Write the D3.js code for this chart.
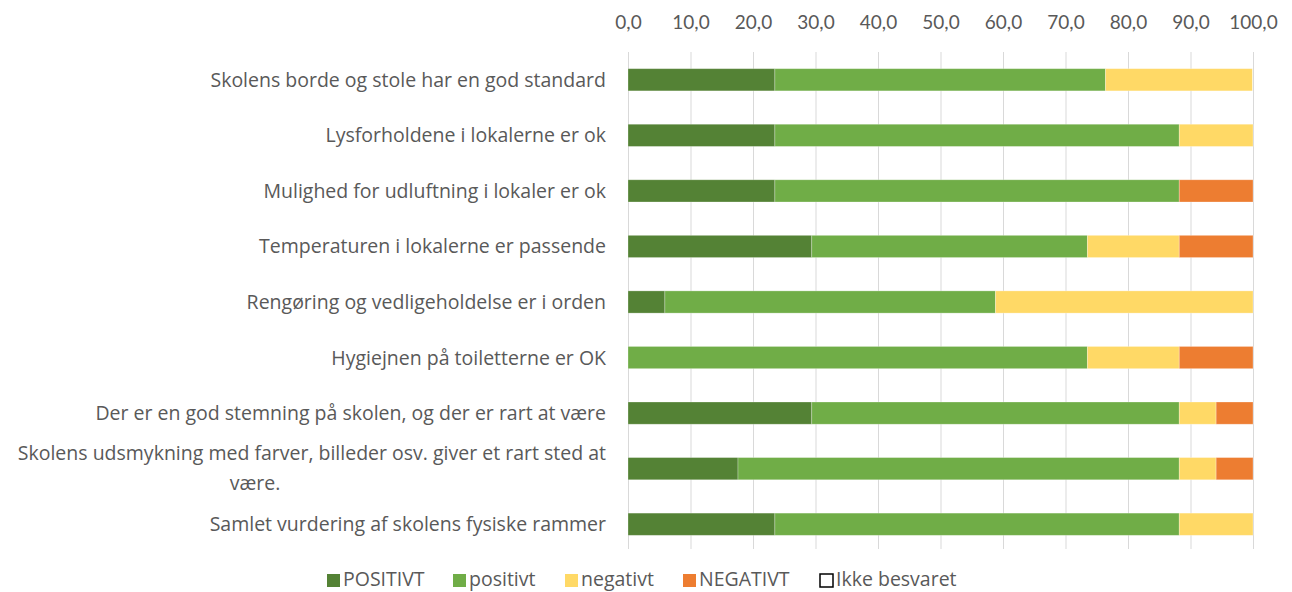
<!DOCTYPE html>
<head>
  <meta charset="utf-8">
  <script src="https://d3js.org/d3.v7.min.js"></script>
  <style>
    body { margin:0; background:#fff; }
    text { font-family: "Open Sans", Lato, sans-serif; fill:#595959; }
  </style>
</head>
<body>
<script>

  var categories = [
    "Skolens borde og stole har en god standard",
    "Lysforholdene i lokalerne er ok",
    "Mulighed for udluftning i lokaler er ok",
    "Temperaturen i lokalerne er passende",
    "Rengøring og vedligeholdelse er i orden",
    "Hygiejnen på toiletterne er OK",
    "Der er en god stemning på skolen, og der er rart at være",
    "Skolens udsmykning med farver, billeder osv. giver et rart sted at være.",
    "Samlet vurdering af skolens fysiske rammer"
  ];

  var seriesNames = ["POSITIVT", "positivt", "negativt", "NEGATIVT", "Ikke besvaret"];

  var POSITIVT     = [23.5, 23.5, 23.5, 29.4,  5.9,  0.0, 29.4, 17.6, 23.5];
  var positivt     = [52.9, 64.7, 64.7, 44.1, 52.9, 73.5, 58.8, 70.6, 64.7];
  var negativt     = [23.5, 11.8,  0.0, 14.7, 41.2, 14.7,  5.9,  5.9, 11.8];
  var NEGATIVT     = [ 0.0,  0.0, 11.8, 11.8,  0.0, 11.8,  5.9,  5.9,  0.0];
  var ikkeBesvaret = [ 0,    0,    0,    0,    0,    0,    0,    0,    0  ];

  var tickValues = [0,10,20,30,40,50,60,70,80,90,100];

  var colors = ["#548235", "#70AD47", "#FFD966", "#ED7D31", "#ffffff"];

  var width = 1292, height = 592;

  var svg = d3.select("body").append("svg")
    .attr("width", width)
    .attr("height", height);

  var x = d3.scaleLinear().domain([0, 100]).range([628, 1253]);
  var y = d3.scaleBand().domain(categories).range([52, 552]).paddingInner(0.6).paddingOuter(0.3);

  var fmt = function(d){ return d3.format(".1f")(d).replace(".", ","); };

  // gridlines
  svg.append("g").selectAll("line")
    .data(tickValues)
    .enter().append("line")
    .attr("x1", function(d){ return x(d) + 0.5; })
    .attr("x2", function(d){ return x(d) + 0.5; })
    .attr("y1", 52).attr("y2", 549)
    .attr("stroke", "#d9d9d9").attr("stroke-width", 1);

  // top axis labels
  var xAxis = d3.axisTop(x).tickValues(tickValues).tickFormat(fmt).tickSize(0).tickPadding(0);
  var ax = svg.append("g").attr("transform", "translate(0,29)").call(xAxis);
  ax.select(".domain").remove();
  ax.selectAll("text").attr("font-size", 19).attr("fill", "#595959")
    .style("font-family", "Lato, 'Open Sans', sans-serif");

  // stacked data
  var table = categories.map(function(c, i){
    return { cat: c, "POSITIVT": POSITIVT[i], "positivt": positivt[i], "negativt": negativt[i],
             "NEGATIVT": NEGATIVT[i], "Ikke besvaret": ikkeBesvaret[i] };
  });
  var stack = d3.stack().keys(seriesNames)(table);

  svg.append("g").selectAll("g")
    .data(stack)
    .enter().append("g")
    .attr("fill", function(d, i){ return colors[i]; })
    .selectAll("rect")
    .data(function(d){ return d; })
    .enter().append("rect")
    .attr("x", function(d){ return x(d[0]); })
    .attr("width", function(d){ return x(d[1]) - x(d[0]); })
    .attr("y", function(d){ return y(d.data.cat); })
    .attr("height", y.bandwidth())
    .attr("stroke", "#ffffff").attr("stroke-opacity", 0.35).attr("stroke-width", 0.8);

  // category labels
  var fs = 19.5;
  var labels = svg.append("g");
  categories.forEach(function(c){
    var cy = y(c) + y.bandwidth() / 2;
    var t = labels.append("text").attr("font-size", fs);
    var probe = t.text(c).node().getComputedTextLength();
    if (probe > 610) {
      var words = c.split(" ");
      var last = words.pop();
      t.text(null);
      t.append("tspan").attr("x", 606).attr("y", cy - 9).attr("text-anchor", "end").text(words.join(" "));
      labels.append("text").attr("font-size", fs).attr("x", 255).attr("y", cy + 21)
        .attr("text-anchor", "middle").text(last);
    } else {
      t.attr("x", 606).attr("y", cy + 7).attr("text-anchor", "end");
    }
  });

  // legend
  var legendX = [327, 453, 565, 683, 820];
  var leg = svg.append("g").selectAll("g")
    .data(seriesNames)
    .enter().append("g")
    .attr("transform", function(d, i){ return "translate(" + legendX[i] + ",574)"; });
  leg.append("rect")
    .attr("width", 13).attr("height", 13)
    .attr("fill", function(d, i){ return colors[i]; })
    .attr("stroke", function(d, i){ return i === 4 ? "#000" : "none"; })
    .attr("stroke-width", 1.5);
  leg.append("text").attr("x", 16).attr("y", 12).attr("font-size", fs).text(function(d){ return d; });

</script>
</body>
